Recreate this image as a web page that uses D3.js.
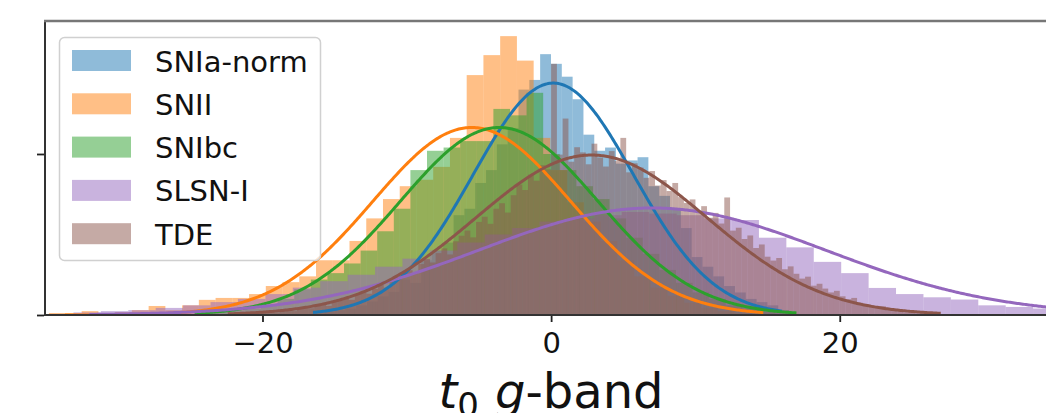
<!DOCTYPE html>
<html>
<head>
<meta charset="utf-8">
<script src="https://cdn.jsdelivr.net/npm/d3@7"></script>
<style>
  html, body { margin: 0; padding: 0; background: #fff; }
  svg { display: block; font-family: "DejaVu Sans", sans-serif; }
</style>
</head>
<body>
<svg id="chart" width="1046" height="413"></svg>
<script>
// Transient classes, in plotting / legend order
const classNames = ["SNIa-norm", "SNII", "SNIbc", "SLSN-I", "TDE"];
const classColors = ["#1f77b4", "#ff7f0e", "#2ca02c", "#9467bd", "#8c564b"];

// Histogram layout per class: left edge of first bin and bin width (days)
const binStart = [-16.51, -34.85, -24.70, -35.00, -22.40];
const binWidth = [0.75, 1.16, 1.15, 1.90, 0.40];

// Normalised bin heights (density) per class
const snIaNorm = [0.0005, 0.0010, 0.0015, 0.0020, 0.0030, 0.0042, 0.0058, 0.0072, 0.0110, 0.0100,
  0.0170, 0.0200, 0.0225, 0.0310, 0.0330, 0.0410, 0.0450, 0.0530, 0.0580, 0.0700,
  0.0730, 0.0810, 0.0780, 0.0740, 0.0670, 0.0560, 0.0510, 0.0520, 0.0470, 0.0480,
  0.0490, 0.0400, 0.0370, 0.0330, 0.0270, 0.0180, 0.0150, 0.0120, 0.0090, 0.0070,
  0.0050, 0.0040, 0.0030, 0.0015];
const snII = [0.0000, 0.0006, 0.0012, 0.0006, 0.0009, 0.0015, 0.0028, 0.0015, 0.0030, 0.0047,
  0.0053, 0.0053, 0.0065, 0.0090, 0.0102, 0.0120, 0.0170, 0.0170, 0.0230, 0.0300,
  0.0360, 0.0400, 0.0420, 0.0460, 0.0550, 0.0745, 0.0807, 0.0866, 0.0790, 0.0550,
  0.0450, 0.0350, 0.0290, 0.0230, 0.0170, 0.0120, 0.0085, 0.0060, 0.0038, 0.0022,
  0.0012, 0.0005];
const snIbc = [0.0005, 0.0010, 0.0015, 0.0020, 0.0030, 0.0050, 0.0080, 0.0110, 0.0130, 0.0160,
  0.0200, 0.0260, 0.0330, 0.0450, 0.0510, 0.0520, 0.0540, 0.0540, 0.0640, 0.0620,
  0.0690, 0.0500, 0.0450, 0.0400, 0.0360, 0.0300, 0.0240, 0.0190, 0.0140, 0.0100,
  0.0070, 0.0050, 0.0030, 0.0020, 0.0010, 0.0005];
const slsnI = [0.0003, 0.0008, 0.0012, 0.0015, 0.0022, 0.0030, 0.0040, 0.0050, 0.0065, 0.0085,
  0.0105, 0.0125, 0.0150, 0.0175, 0.0200, 0.0225, 0.0250, 0.0270, 0.0290, 0.0300,
  0.0310, 0.0320, 0.0315, 0.0310, 0.0300, 0.0295, 0.0240, 0.0210, 0.0165, 0.0130,
  0.0084, 0.0065, 0.0055, 0.0048, 0.0030, 0.0025, 0.0020, 0.0015, 0.0010];
const tde = [0.0004, 0.0000, 0.0005, 0.0006, 0.0003, 0.0009, 0.0008, 0.0011, 0.0007, 0.0013,
  0.0016, 0.0012, 0.0019, 0.0024, 0.0021, 0.0029, 0.0033, 0.0028, 0.0041, 0.0046,
  0.0052, 0.0047, 0.0063, 0.0070, 0.0066, 0.0081, 0.0093, 0.0085, 0.0104, 0.0118,
  0.0126, 0.0139, 0.0131, 0.0158, 0.0174, 0.0163, 0.0192, 0.0207, 0.0188, 0.0229,
  0.0246, 0.0262, 0.0241, 0.0289, 0.0305, 0.0283, 0.0330, 0.0347, 0.0318, 0.0372,
  0.0405, 0.0388, 0.0436, 0.0417, 0.0465, 0.0452, 0.0780, 0.0498, 0.0610, 0.0476,
  0.0521, 0.0505, 0.0468, 0.0532, 0.0489, 0.0461, 0.0509, 0.0478, 0.0550, 0.0443,
  0.0471, 0.0458, 0.0426, 0.0447, 0.0402, 0.0419, 0.0385, 0.0410, 0.0366, 0.0348,
  0.0359, 0.0321, 0.0338, 0.0302, 0.0317, 0.0284, 0.0365, 0.0262, 0.0271, 0.0236,
  0.0247, 0.0208, 0.0219, 0.0181, 0.0169, 0.0177, 0.0142, 0.0151, 0.0128, 0.0113,
  0.0119, 0.0091, 0.0097, 0.0082, 0.0070, 0.0075, 0.0058, 0.0049, 0.0053, 0.0038,
  0.0034, 0.0030, 0.0024, 0.0027, 0.0016, 0.0019, 0.0012, 0.0008, 0.0011, 0.0005,
  0.0007, 0.0003, 0.0005, 0.0002];
const binHeights = [snIaNorm, snII, snIbc, slsnI, tde];

// Gaussian fits per class: mean, standard deviation, and plotted span
const fitMean = [0.15, -5.5, -3.6, 7.0, 2.8];
const fitSigma = [5.54, 6.85, 6.85, 12.0, 8.03];
const fitLo = [-16.5, -34.8, -24.7, -32.0, -22.4];
const fitHi = [16.0, 14.7, 17.0, 40.0, 27.0];

// Axis ticks
const xTicks = [-20, 0, 20];
const yTicks = [0, 0.05];

const svg = d3.select("#chart");
const plot = { left: 44, top: 21, bottom: 315, right: 1106 };

const x = d3.scaleLinear().domain([-35.14, 38.45]).range([plot.left, plot.right]);
const y = d3.scaleLinear().domain([0, 0.0913]).range([plot.bottom, plot.top]);

svg.append("defs").append("clipPath").attr("id", "plot-clip")
  .append("rect")
  .attr("x", plot.left).attr("y", plot.top)
  .attr("width", plot.right - plot.left).attr("height", plot.bottom - plot.top);

const area = svg.append("g").attr("clip-path", "url(#plot-clip)");

// Histograms, drawn in class order with half transparency
classNames.forEach((name, c) => {
  const bins = binHeights[c].map((h, i) => ({
    x0: binStart[c] + i * binWidth[c],
    x1: binStart[c] + (i + 1) * binWidth[c],
    h
  })).filter(b => b.h > 0);
  area.append("g")
    .selectAll("rect")
    .data(bins)
    .join("rect")
    .attr("x", d => x(d.x0))
    .attr("width", d => x(d.x1) - x(d.x0))
    .attr("y", d => y(d.h))
    .attr("height", d => y(0) - y(d.h))
    .attr("fill", classColors[c])
    .attr("fill-opacity", 0.5);
});

// Gaussian fit curves on top of the histograms
const line = d3.line().x(d => x(d[0])).y(d => y(d[1])).curve(d3.curveLinear);
classNames.forEach((name, c) => {
  const mu = fitMean[c], s = fitSigma[c];
  const pts = d3.range(fitLo[c], fitHi[c] + 1e-9, 0.1).map(v =>
    [v, Math.exp(-0.5 * ((v - mu) / s) ** 2) / (s * Math.sqrt(2 * Math.PI))]);
  area.append("path")
    .attr("d", line(pts))
    .attr("fill", "none")
    .attr("stroke", classColors[c])
    .attr("stroke-width", 3);
});

// Axes
const xAxis = svg.append("g")
  .attr("transform", `translate(0,${plot.bottom})`)
  .call(d3.axisBottom(x).tickValues(xTicks).tickSize(7).tickPadding(10)
    .tickFormat(d => d < 0 ? "\u2212" + Math.abs(d) : String(d)));
xAxis.select(".domain").remove();
xAxis.selectAll(".tick line").attr("stroke", "#222").attr("stroke-width", 1.8);
xAxis.selectAll(".tick text")
  .attr("fill", "#111")
  .style("font-family", "'DejaVu Sans', sans-serif")
  .style("font-size", "29px");

const yAxis = svg.append("g")
  .attr("transform", `translate(${plot.left},0)`)
  .call(d3.axisLeft(y).tickValues(yTicks).tickSize(7).tickFormat(() => ""));
yAxis.select(".domain").remove();
yAxis.selectAll(".tick line").attr("stroke", "#222").attr("stroke-width", 1.8);

// Spines
svg.append("line").attr("x1", plot.left + 1).attr("x2", plot.left + 1)
  .attr("y1", plot.top).attr("y2", plot.bottom + 1)
  .attr("stroke", "#333").attr("stroke-width", 2);
svg.append("line").attr("x1", plot.left).attr("x2", 1046)
  .attr("y1", plot.bottom).attr("y2", plot.bottom)
  .attr("stroke", "#333").attr("stroke-width", 2);
svg.append("line").attr("x1", plot.left).attr("x2", 1046)
  .attr("y1", plot.top).attr("y2", plot.top)
  .attr("stroke", "#777").attr("stroke-width", 2.5);

// Legend
const legend = svg.append("g");
legend.append("rect")
  .attr("x", 59.5).attr("y", 37.5).attr("width", 261).attr("height", 223)
  .attr("rx", 5).attr("ry", 5)
  .attr("fill", "#fff").attr("fill-opacity", 0.8)
  .attr("stroke", "#d0d0d0").attr("stroke-width", 1.5);
classNames.forEach((name, c) => {
  const top = 50 + c * 43.3;
  legend.append("rect")
    .attr("x", 72).attr("y", top).attr("width", 59).attr("height", 21)
    .attr("fill", classColors[c]).attr("fill-opacity", 0.5);
  legend.append("text")
    .attr("x", 155).attr("y", top + 21.5)
    .attr("fill", "#111")
    .style("font-size", "29px")
    .text(name);
});

// Axis title
const title = svg.append("text")
  .attr("x", 551).attr("y", 408)
  .attr("text-anchor", "middle")
  .attr("fill", "#111")
  .style("font-size", "48px");
title.append("tspan").style("font-style", "italic").text("t");
title.append("tspan").attr("dy", 9).style("font-size", "34px").text("0");
title.append("tspan").attr("dy", -9).attr("dx", 16).style("font-style", "italic").text("g");
title.append("tspan").text("-band");
</script>
</body>
</html>
